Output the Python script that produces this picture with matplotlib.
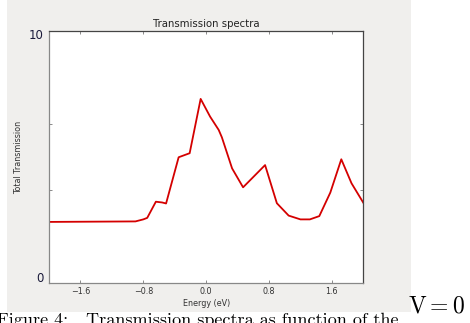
import matplotlib
matplotlib.use("Agg")
import matplotlib.pyplot as plt
from matplotlib.patches import Rectangle
from matplotlib.transforms import ScaledTranslation

energy = [-2.0, -0.90, -0.80, -0.75, -0.64, -0.56, -0.51, -0.35, -0.21, -0.07,
          0.05, 0.16, 0.20, 0.33, 0.47, 0.75, 0.90, 1.05, 1.20, 1.32, 1.44,
          1.58, 1.72, 1.85, 2.0]
transmission = [2.43, 2.45, 2.53, 2.59, 3.23, 3.20, 3.16, 4.99, 5.15, 7.30,
                6.60, 6.07, 5.78, 4.55, 3.80, 4.68, 3.17, 2.68, 2.53, 2.53, 2.66,
                3.59, 4.91, 3.96, 3.19]
xticks = [-1.6, -0.8, 0.0, 0.8, 1.6]
xtick_labels = ["\u22121.6", "\u22120.8", "0.0", "0.8", "1.6"]
yticks = [0, 3.7, 6.3, 10]
ytick_labels = ["0", "", "", "10"]

W, H = 470, 323
fig = plt.figure(figsize=(W / 100, H / 100), dpi=100)
fig.patch.set_facecolor("white")
fig.patches.append(Rectangle((7 / W, 1 - 311.5 / H), (411 - 7) / W, 311.5 / H,
                             transform=fig.transFigure, facecolor="#f0efed",
                             edgecolor="none", zorder=-10))

ax = fig.add_axes([49 / W, 1 - 283.3 / H, (363.3 - 49) / W, (283.3 - 30.7) / H])
ax.set_zorder(5)
ax.set_facecolor("white")
ax.plot(energy, transmission, color="#d40000", lw=1.3)
ax.set_xlim(-2.0, 2.0)
ax.set_ylim(0, 10)
ax.set_xticks(xticks)
ax.set_xticklabels(xtick_labels, fontsize=5.8, color="#333333")
ax.set_yticks(yticks)
ax.set_yticklabels(ytick_labels, fontsize=8.5, color="#1a1a3a")
ax.tick_params(direction="in", length=2.5, width=0.6, color="#777777",
               top=True, right=True, pad=3)
ax.tick_params(axis="y", pad=4)
offs = {"0": 6 / 100, "10": -3 / 100}
for lab in ax.get_yticklabels():
    t = lab.get_text()
    if t in offs:
        lab.set_transform(lab.get_transform() + ScaledTranslation(0, offs[t], fig.dpi_scale_trans))
for s in ax.spines.values():
    s.set_color("#444444")
    s.set_linewidth(0.9)
ax.spines["left"].set_color("#888888")
ax.spines["bottom"].set_color("#888888")
ax.set_title("Transmission spectra", fontsize=7.3, color="#222222", pad=3)
ax.set_xlabel("Energy (eV)", fontsize=5.8, color="#333333", labelpad=2)
ax.set_ylabel("Total Transmission", fontsize=5.8, color="#333333", labelpad=4)

fig.text(-3 / W, 1 - 313 / H, "Figure 4:   Transmission spectra as function of the",
         family="cmr10", fontsize=13, va="top", ha="left", color="black", zorder=10)
fig.text(408 / W, 1 - 312.5 / H, r"$\mathrm{V}=0$", math_fontfamily="cm", fontsize=17,
         va="baseline", ha="left", color="black", zorder=10)

fig.savefig("out.png", dpi=100)
